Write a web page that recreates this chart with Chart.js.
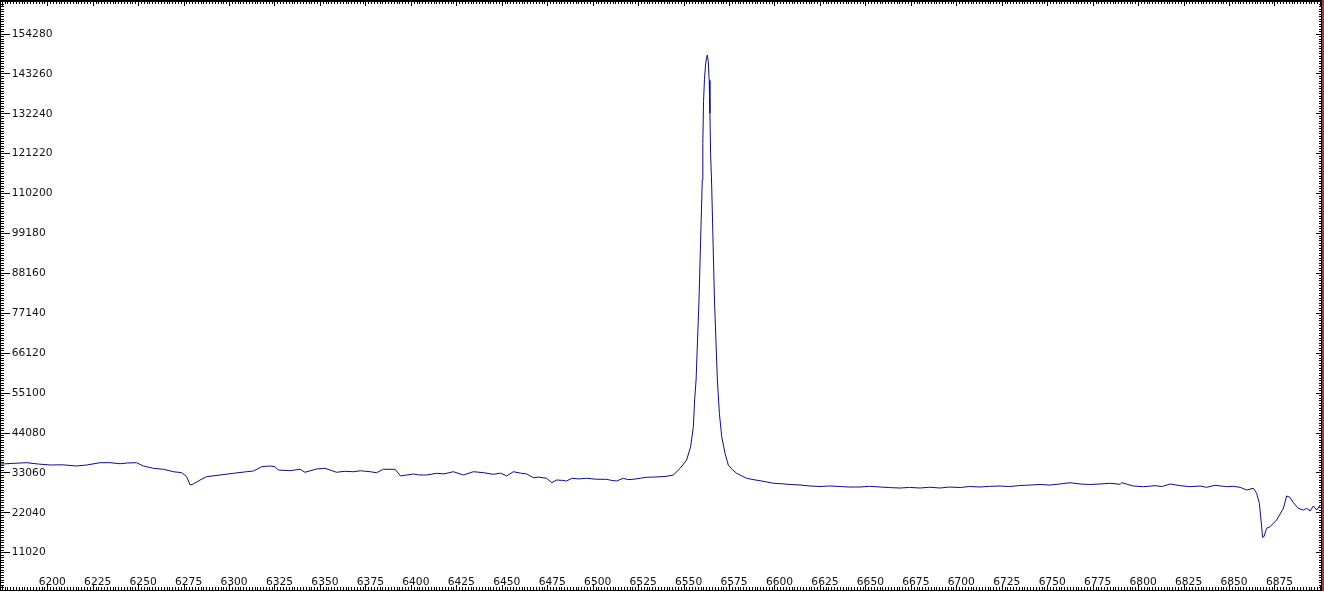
<!DOCTYPE html>
<html><head><meta charset="utf-8">
<script src="https://cdn.jsdelivr.net/npm/chart.js@4.4.1/dist/chart.umd.min.js"></script>
<style>
html,body{margin:0;padding:0;background:#fff;overflow:hidden;}
#outer{position:absolute;left:0;top:0;width:1324px;height:591px;box-sizing:border-box;border-right:2px solid #9e3b3b;}
#frame{position:absolute;left:0;top:0;right:0;bottom:0;box-sizing:border-box;border-top:2px solid #000;border-left:1px solid #000;border-right:1px solid #000;border-bottom:1px solid #000;}
canvas{display:block;}
</style></head><body>
<div id="outer"><div id="frame"><canvas id="c" width="1320" height="588"></canvas></div></div>
<script>
// Wavelength (Angstrom) sample positions
const wavelength = [
6174.3,6181,6188.5,6195,6201.3,6208,6215.9,6221.4,6228.8,6234.3,6239.8,6244,6248.9,6252.6,6258.1,6263.6,6269.1,6273.7,6276.4,6278.3,
6280.1,6283.8,6287.4,6294.8,6302.1,6309.4,6313.1,6317.7,6322.3,6325.0,6326.8,6333.3,6338.8,6341.5,6347.9,6352.5,6358.9,6363,6368.1,6372,
6377.3,6380.9,6384.6,6391.0,6394.1,6401.1,6404,6408.4,6413.9,6418,6423.1,6428.6,6434.1,6439.6,6445.1,6449,6452.4,6456.1,6460,6463.4,
6467.1,6470,6474.4,6477.2,6479.9,6483,6485.4,6488.2,6492,6496.4,6502,6507.4,6510,6512.9,6516.6,6519,6522.1,6526,6529.4,6533,
6536.8,6540,6544.1,6547.8,6551.4,6553.6,6555.1,6555.8,6556.6,6558.2,6560.0,6560.3,6560.7,6561.2,6561.8,6562.3,6562.8,6563.3,6563.8,6564.2,
6564.6,6565.2,6566.7,6568.3,6569.4,6570.7,6572.5,6574.3,6576.5,6578.9,6584.4,6588,6591.8,6595,6599.1,6604,6608.3,6613.8,6619.3,6624.8,
6630,6635.8,6641,6646.8,6652,6657.8,6663,6668.8,6674,6679.8,6685,6690.8,6696,6701.8,6707,6712.8,6718,6723.8,6729,6734.8,
6740,6745.8,6751,6756.8,6762.3,6767.8,6773,6778.8,6784.3,6789.8,6790.7,6797.1,6802.6,6809.0,6813,6817.3,6822.8,6828.3,6833.8,6837.4,
6842.0,6848.4,6852,6855.8,6859.4,6863.1,6864.9,6866.4,6867.3,6868.2,6868.9,6870.4,6872.3,6875.9,6879.6,6881.4,6883.2,6885.1,6887.8,6890.6,
6892.4,6894.3,6896.1,6897.9,6899.8,6900.3
];
// Flux values
const flux = [
35500,35700,35880,35500,35240,35300,34970,35240,35880,35880,35600,35800,35880,34970,34330,34060,33390,33120,32010,29720,
30000,31100,32010,32480,32950,33390,33590,34770,34970,34770,33860,33670,34060,33230,34140,34330,33230,33500,33390,33650,
33390,33120,34060,34060,32210,32760,32500,32480,32950,32800,33390,32480,33390,33120,32670,33000,32210,33390,33000,32760,
31740,31900,31570,30350,31100,31000,30820,31570,31400,31570,31300,31290,31000,30820,31570,31200,31290,31600,31850,31900,
32000,32100,32480,34330,36620,40300,45820,53200,58720,80820,113960,124000,135600,141800,145700,147600,148500,146600,141500,132400,
121000,112000,80820,58720,49520,43060,38480,35240,34000,32950,31570,31200,30910,30600,30190,30050,29860,29720,29440,29300,
29450,29300,29150,29170,29350,29170,29000,28890,29050,28890,29100,28890,29150,29030,29300,29170,29350,29440,29300,29580,
29700,29860,29700,30000,30350,30000,29850,30000,30190,29910,30350,29440,29250,29530,29300,30000,29530,29250,29440,29080,
29640,29250,29350,29080,28340,28810,27430,24670,20050,15270,15440,17760,18200,20050,23280,26680,26320,24830,23280,22810,
23280,22540,23920,22810,24200,23900
];
// Axis ranges and tick steps
const xRange = [6174.3, 6900.3];
const yRange = [718, 163124];
const xMajorStep = 25, xMinorStep = 1.5625;
const yMajorStep = 11020, yMinorStep = 688.75;

const LABEL_FONT = {family: 'DejaVu Sans', size: 10.7};

function zeroFit(scale) {
  if (scale.isHorizontal()) scale.height = 0; else scale.width = 0;
  scale.paddingLeft = scale.paddingRight = scale.paddingTop = scale.paddingBottom = 0;
}
function stepTicks(step) {
  return function (scale) {
    const out = [];
    const k0 = Math.ceil(scale.min / step - 1e-9);
    for (let k = k0; k * step <= scale.max + 1e-9; k++) out.push({value: Math.round(k * step * 10000) / 10000});
    scale.ticks = out;
  };
}
function ruler(axis, position, step, len, tickExtra) {
  const r = axis === 'x' ? xRange : yRange;
  return {
    type: 'linear', axis: axis, position: position, min: r[0], max: r[1],
    border: {display: false},
    grid: {display: true, drawOnChartArea: false, drawTicks: true, tickLength: -len, tickColor: '#000', tickWidth: 1},
    ticks: Object.assign({display: false, autoSkip: false}, tickExtra || {}),
    afterBuildTicks: stepTicks(step),
    afterFit: zeroFit
  };
}

const xMain = ruler('x', 'bottom', xMajorStep, 5, {
  display: true, font: LABEL_FONT, color: '#111', mirror: true, padding: 1.1, labelOffset: 4.5,
  maxRotation: 0, minRotation: 0,
  callback: v => (v > 6190 && v < 6890) ? String(v) : ''
});
const yMain = ruler('y', 'left', yMajorStep, 9, {
  display: true, font: LABEL_FONT, color: '#111', mirror: true, padding: 10.7,
  callback: v => String(v)
});

new Chart(document.getElementById('c'), {
  type: 'line',
  data: {
    datasets: [{
      data: wavelength.map((w, i) => ({x: w, y: flux[i]})),
      borderColor: '#0c0c8c', borderWidth: 1, pointRadius: 0, fill: false, tension: 0
    }]
  },
  options: {
    responsive: false, animation: false, events: [],
    layout: {padding: 0, autoPadding: false},
    plugins: {legend: {display: false}, tooltip: {enabled: false}},
    scales: {
      x: xMain,
      xMinor: ruler('x', 'bottom', xMinorStep, 3),
      xTop: ruler('x', 'top', xMajorStep, 4),
      xTopMinor: ruler('x', 'top', xMinorStep, 2),
      y: yMain,
      yMinor: ruler('y', 'left', yMinorStep, 3),
      yRight: ruler('y', 'right', yMajorStep, 5),
      yRightMinor: ruler('y', 'right', yMinorStep, 2)
    }
  }
});
</script>
</body></html>
